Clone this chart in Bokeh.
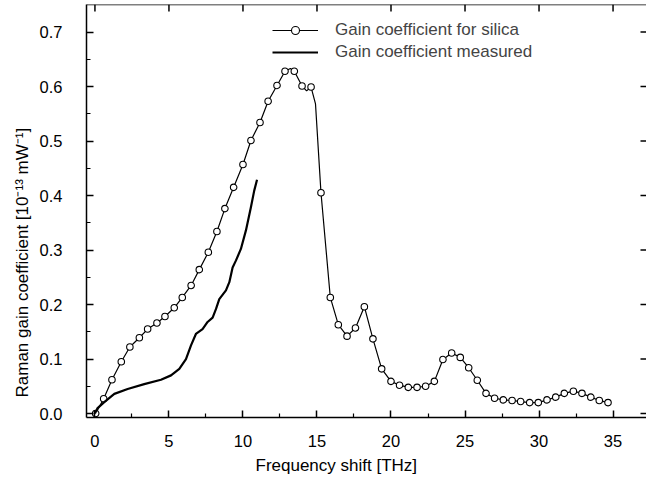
import math
from bokeh.plotting import figure
from bokeh.models import Range1d, FixedTicker, Legend, LegendItem, Title, Span
from bokeh.embed import file_html
from bokeh.resources import INLINE

# ---- data ----
silica_x = [0.05, 0.59, 1.15, 1.78, 2.36, 3.0, 3.56, 4.19, 4.73, 5.36, 5.9, 6.5, 7.05, 7.66,
            8.24, 8.78, 9.37, 10.0, 10.54, 11.15, 11.7, 12.3, 12.84, 13.47, 13.99, 14.6,
            15.27, 15.9, 16.44, 17.03, 17.6, 18.2, 18.78, 19.37, 20.0, 20.58, 21.17, 21.76,
            22.34, 22.93, 23.51, 24.1, 24.68, 25.25, 25.83, 26.42, 27.0, 27.59, 28.18,
            28.76, 29.37, 29.95, 30.54, 31.13, 31.71, 32.32, 32.9, 33.5, 34.07, 34.66]
silica_y = [0.0, 0.027, 0.062, 0.095, 0.122, 0.139, 0.155, 0.166, 0.178, 0.194, 0.213, 0.235,
            0.264, 0.296, 0.334, 0.376, 0.415, 0.457, 0.501, 0.534, 0.573, 0.602, 0.628,
            0.628, 0.601, 0.599, 0.405, 0.213, 0.163, 0.142, 0.157, 0.196, 0.137, 0.082,
            0.059, 0.052, 0.048, 0.048, 0.050, 0.059, 0.099, 0.111, 0.103, 0.084, 0.061,
            0.037, 0.028, 0.025, 0.024, 0.022, 0.020, 0.020, 0.025, 0.030, 0.037, 0.041,
            0.037, 0.030, 0.024, 0.020]
# extra points of the smooth silica curve between markers
silica_shape_x = [13.2, 14.3, 14.9]
silica_shape_y = [0.633, 0.592, 0.568]

measured_x = [0.0, 0.18, 0.63, 1.31, 2.21, 3.33, 4.46, 5.14, 5.7, 6.15, 6.49, 6.82, 7.27,
              7.61, 7.95, 8.18, 8.4, 8.85, 9.08, 9.3, 9.53, 9.86, 10.2, 10.54, 10.76, 10.95]
measured_y = [0.0, 0.010, 0.021, 0.036, 0.045, 0.054, 0.062, 0.070, 0.082, 0.100, 0.125,
              0.146, 0.155, 0.168, 0.176, 0.192, 0.210, 0.226, 0.241, 0.268, 0.281, 0.302,
              0.336, 0.379, 0.409, 0.429]

x_ticks = [0, 5, 10, 15, 20, 25, 30, 35]
x_minor_ticks = [2.5, 7.5, 12.5, 17.5, 22.5, 27.5, 32.5]
y_ticks = [0.0, 0.1, 0.2, 0.3, 0.4, 0.5, 0.6, 0.7]
y_minor_ticks = [0.05, 0.15, 0.25, 0.35, 0.45, 0.55, 0.65]
y_tick_labels = ["0.0", "0.1", "0.2", "0.3", "0.4", "0.5", "0.6", "0.7"]

series_labels = ["Gain coefficient for silica", "Gain coefficient measured"]
x_label = "Frequency shift [THz]"
y_label = "Raman gain coefficient [10\u207b\u00b9\u00b3 mW\u207b\u00b9]"

FONT = "Liberation Sans"
X_MIN, X_MAX = -0.57, 37.26
Y_MIN, Y_MAX = -0.0073, 0.7505

p = figure(width=646, height=483, output_backend="svg", toolbar_location=None,
           x_range=Range1d(X_MIN, X_MAX), y_range=Range1d(Y_MIN, Y_MAX),
           min_border_left=86, min_border_right=0, min_border_top=4, min_border_bottom=66)
p.xgrid.visible = False
p.ygrid.visible = False
p.outline_line_color = None
p.background_fill_color = "white"
p.border_fill_color = "white"


def style_axis(ax):
    ax.axis_line_color = "black"
    ax.axis_line_width = 1.5
    ax.major_tick_line_color = "black"
    ax.major_tick_line_width = 1.5
    ax.major_tick_in = 7
    ax.major_tick_out = 0
    ax.minor_tick_line_color = "black"
    ax.minor_tick_line_width = 1.2
    ax.minor_tick_in = 4
    ax.minor_tick_out = 0
    ax.major_label_text_font = FONT
    ax.major_label_text_font_size = "16.5px"
    ax.major_label_text_color = "black"


xax = p.xaxis[0]
yax = p.yaxis[0]
xax.ticker = FixedTicker(ticks=x_ticks, minor_ticks=x_minor_ticks)
yax.ticker = FixedTicker(ticks=y_ticks, minor_ticks=y_minor_ticks)
yax.major_label_overrides = {t: s for t, s in zip(y_ticks, y_tick_labels)}
style_axis(xax)
style_axis(yax)
xax.major_label_standoff = 17
yax.major_label_standoff = 24

# top border and inward ticks on the top and right sides
p.add_layout(Span(location=Y_MAX, dimension="width", line_color="black", line_width=1.5))
p.ray(x=x_ticks, y=[Y_MAX] * len(x_ticks), length=7, length_units="screen",
      angle=-math.pi / 2, line_color="black", line_width=1.5)
p.ray(x=[X_MAX] * len(y_ticks), y=y_ticks, length=6, length_units="screen",
      angle=math.pi, line_color="black", line_width=1.5)

xt = Title(text=x_label, align="left", offset=169, text_font=FONT, text_font_size="17px",
           text_font_style="normal", text_color="black", standoff=9)
p.add_layout(xt, "below")
yt = Title(text=y_label, align="left", offset=20, text_font=FONT, text_font_size="17px",
           text_font_style="normal", text_color="black", standoff=9)
p.add_layout(yt, "left")

pairs = sorted(zip(silica_x + silica_shape_x, silica_y + silica_shape_y))
line_x = [a for a, b in pairs]
line_y = [b for a, b in pairs]

r_sil_line = p.line(line_x, line_y, line_color="black", line_width=1.2)
r_sil_pts = p.scatter(silica_x, silica_y, marker="circle", size=6.5, fill_color="white",
                      line_color="black", line_width=1.1)
r_meas = p.line(measured_x, measured_y, line_color="black", line_width=2.2)

legend = Legend(items=[LegendItem(label=series_labels[0], renderers=[r_sil_line, r_sil_pts]),
                       LegendItem(label=series_labels[1], renderers=[r_meas])],
                location=(186, 355), padding=0, margin=0, spacing=2,
                glyph_width=46, glyph_height=20, label_height=20, label_standoff=17,
                label_text_font=FONT, label_text_font_size="17px",
                border_line_alpha=0, background_fill_alpha=0)
p.add_layout(legend)

open("out.html", "w").write(file_html(p, INLINE))
